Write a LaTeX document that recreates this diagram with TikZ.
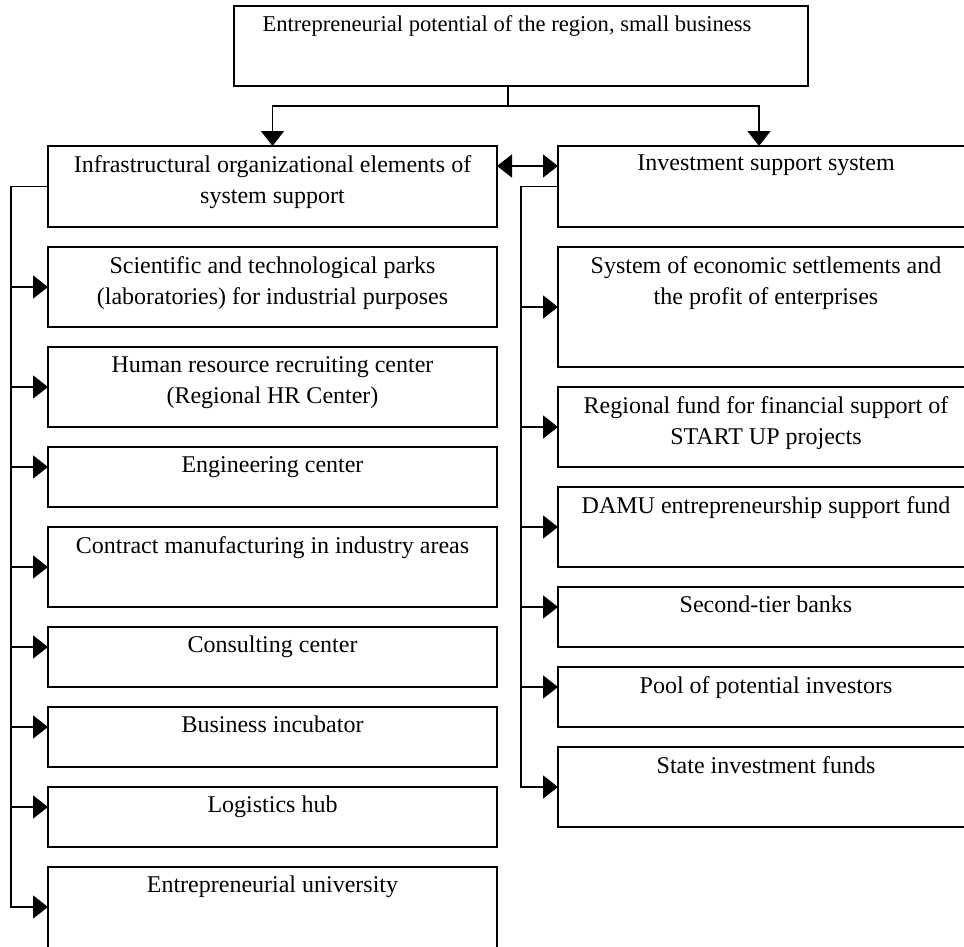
\documentclass[tikz,border=0pt]{standalone}
\usepackage{fontspec}
\setmainfont{Liberation Serif}
\usetikzlibrary{shapes,arrows.meta,positioning,calc}

\tikzset{
    box/.style={draw, rectangle, line width=1.6pt, inner sep=0pt, outer sep=0pt,
        minimum width=449pt, minimum height=#1},
    box/.default=80pt,
    rbox/.style={box=#1, minimum width=416pt},
    rbox/.default=80pt,
    boxtext/.style={anchor=north, align=center, inner sep=0pt, yshift=-9pt,
        font=\fontsize{24}{31}\selectfont},
    link/.style={line width=1.6pt}
}

\begin{document}
\begin{tikzpicture}[>={Triangle[length=15pt, width=23pt]}, node distance=20pt]
    \useasboundingbox (0,0) rectangle (964pt,-946pt);

    % top level
    \node[box, minimum width=574pt, anchor=north west,
        label={[boxtext, xshift=-14pt, font=\fontsize{22.6}{31}\selectfont]90:{Entrepreneurial potential of the region, small business}}]
        (top) at (234pt,-6pt) {};

    % two branches
    \node[box=81pt, anchor=north west,
        label={[boxtext]90:{Infrastructural organizational elements of\\system support}}]
        (infra) at (48pt,-146pt) {};
    \node[rbox=81pt, anchor=north west,
        label={[boxtext]90:{Investment support system}}]
        (invest) at (558pt,-146pt) {};

    % left column
    \node[box, below=of infra, label={[boxtext]90:{Scientific and technological parks\\(laboratories) for industrial purposes}}] (sci) {};
    \node[box, below=of sci, label={[boxtext]90:{Human resource recruiting center\\(Regional HR Center)}}] (hr) {};
    \node[box=60pt, below=of hr, label={[boxtext]90:{Engineering center}}] (eng) {};
    \node[box, below=of eng, label={[boxtext]90:{Contract manufacturing in industry areas}}] (contr) {};
    \node[box=60pt, below=of contr, label={[boxtext]90:{Consulting center}}] (cons) {};
    \node[box=60pt, below=of cons, label={[boxtext]90:{Business incubator}}] (incub) {};
    \node[box=60pt, below=of incub, label={[boxtext]90:{Logistics hub}}] (logist) {};
    \node[box=84pt, below=of logist, label={[boxtext]90:{Entrepreneurial university}}] (univ) {};

    % right column
    \node[rbox=120pt, below=of invest, label={[boxtext]90:{System of economic settlements and\\the profit of enterprises}}] (settle) {};
    \node[rbox, below=of settle, label={[boxtext]90:{Regional fund for financial support of\\START UP projects}}] (fund) {};
    \node[rbox, below=of fund, label={[boxtext]90:{DAMU entrepreneurship support fund}}] (damu) {};
    \node[rbox=60pt, below=of damu, label={[boxtext]90:{Second-tier banks}}] (banks) {};
    \node[rbox=60pt, below=of banks, label={[boxtext]90:{Pool of potential investors}}] (pool) {};
    \node[rbox, below=of pool, label={[boxtext]90:{State investment funds}}] (state) {};

    % split from the top box
    \coordinate (stem) at ($(top.south)+(-13pt,0)$);
    \coordinate (split) at ($(stem)+(0,-20pt)$);
    \coordinate (investin) at ($(invest.north west)+(201pt,0)$);
    \draw[link] (stem) -- (split);
    \draw[link, ->] (split) -| (infra.north);
    \draw[link, ->] (split) -| (investin);
    \draw[link, <->] ($(infra.north east)+(0,-20pt)$) -- ($(invest.north west)+(0,-20pt)$);

    % trunks
    \coordinate (ltrunk) at ($(infra.west)+(-37pt,0)$);
    \coordinate (rtrunk) at ($(invest.west)+(-37pt,0)$);
    \foreach \n/\f in {sci/.5, hr/.5, eng/.333, contr/.5, cons/.333, incub/.333, logist/.333, univ/.476,
        settle/.5, fund/.5, damu/.5, banks/.333, pool/.333, state/.5}
        \coordinate (\n-in) at ($(\n.north west)!\f!(\n.south west)$);
    \foreach \n in {sci, hr, eng, contr, cons, incub, logist}
        \draw[link, ->] (ltrunk |- \n-in) -- (\n-in);
    \foreach \n in {settle, fund, damu, banks, pool}
        \draw[link, ->] (rtrunk |- \n-in) -- (\n-in);
    \draw[link, ->] (infra.west) -- (ltrunk) |- (univ-in);
    \draw[link, ->] (invest.west) -- (rtrunk) |- (state-in);
\end{tikzpicture}
\end{document}
